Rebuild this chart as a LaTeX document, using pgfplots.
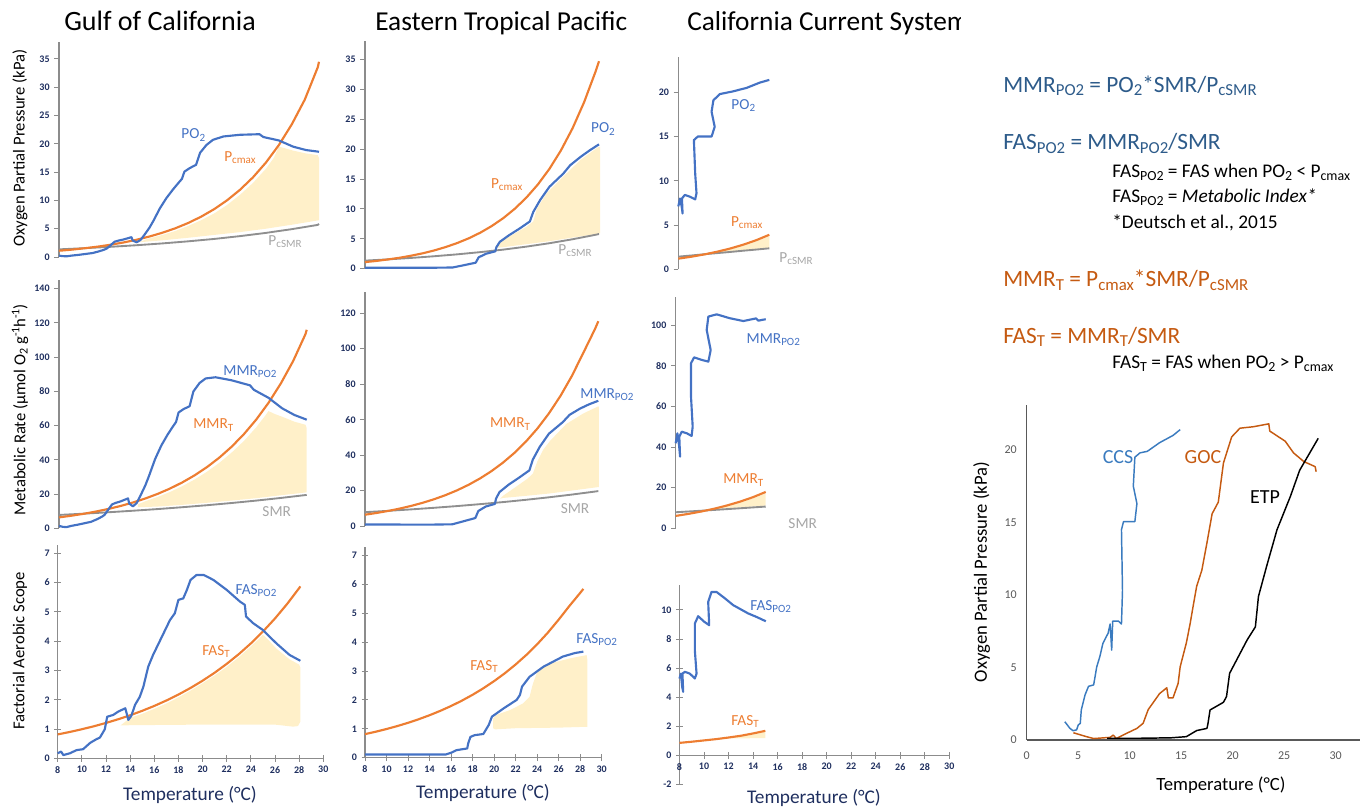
\documentclass[border=0pt]{standalone}
\usepackage{fontspec}
\setmainfont{Carlito}
\usepackage{graphicx}
\usepackage{pgfplots}
\pgfplotsset{compat=1.18}
\definecolor{cblue}{HTML}{4472C4}
\definecolor{corange}{HTML}{ED7D31}
\definecolor{cgray}{HTML}{8F8F8F}
\definecolor{cgraylbl}{HTML}{A6A6A6}
\definecolor{cfill}{HTML}{FFF0C9}
\definecolor{navy}{HTML}{1F2F5F}
\definecolor{axgray}{HTML}{8C8C8C}
\definecolor{eqblue}{HTML}{2D5B8A}
\definecolor{eqorange}{HTML}{C55A11}
\definecolor{rblue}{HTML}{3A7BBF}
\definecolor{rorange}{HTML}{C55A11}
\definecolor{tickgray}{HTML}{595959}
\newcommand\sub[1]{\raisebox{-0.3ex}{\scalebox{0.72}{#1}}}
\newcommand\sups[1]{\raisebox{0.75ex}{\scalebox{0.7}{#1}}}
\newcommand\cl{\fontsize{11.5}{13}\selectfont}
\tikzset{cl/.style={font=\cl}, lw/.style={anchor=base west, inner xsep=0pt}}
\pgfplotsset{
 noarrows/.style={axis line style={-}, x axis line style={-}, y axis line style={-},
   every outer x axis line/.append style={-}, every outer y axis line/.append style={-},
   every inner x axis line/.append style={-}, every inner y axis line/.append style={-}},
 base/.style={scale only axis, anchor=south west, clip=false,
   /pgf/number format/assume math mode=true,
   tick label style={font=\fontsize{7.5}{8}\selectfont\bfseries, text=navy},
   tick style={draw=axgray, line width=0.7pt},
   axis line style={draw=axgray, line width=0.8pt},
   major tick length=3.5pt, line join=round},
 toppanel/.style={base, axis y line=left, axis x line=none, xtick=\empty, tick align=outside, ymin=0, xmin=8, noarrows},
 botpanel/.style={base, axis lines=left, tick align=center, major tick length=5pt, xtick={8,10,...,30}, xmin=8, xmax=30, ymin=0, noarrows},
 bl/.style={cblue, line width=1.6pt},
 or/.style={corange, line width=1.6pt},
 gr/.style={cgray, line width=1.4pt},
 fl/.style={draw=none, fill=cfill},
}
\begin{document}
\begin{tikzpicture}
\path[use as bounding box] (0pt,0pt) rectangle (1026pt,606.75pt);
% ---------- GoC top
\begin{axis}[toppanel, at={(44.25pt,414pt)}, width=195pt, height=161.25pt, xmax=28.1, ymax=38, ytick={0,5,...,35}]
\addplot[fl] coordinates {(14.2,2.6)(14.6,3.0)(15,3.3)(16,3.9)(17,4.6)(18,5.5)(19,6.5)(20,7.7)(21,9.2)(22,11.0)(23,13.1)(24,15.6)(24.6,17.5)(25.0,19.5)(25.5,19.2)(26.1,18.8)(27.1,18.3)(28.0,18.0)(28.1,17.5)(28.1,6.5)(26,5.7)(24,5.0)(22,4.4)(20,3.9)(18,3.4)(16,2.95)};
\addplot[gr] coordinates {(8,1.35)(10,1.56)(12,1.80)(14,2.08)(16,2.40)(18,2.77)(20,3.19)(22,3.69)(24,4.26)(26,4.92)(28,5.67)(28.1,5.85)};
\addplot[or] coordinates {(8,1.10)(9,1.30)(10,1.55)(11,1.83)(12,2.17)(13,2.57)(14,3.05)(15,3.62)(16,4.29)(17,5.08)(18,6.02)(19,7.14)(20,8.46)(21,10.03)(22,11.89)(23,14.09)(24,16.70)(25,19.79)(26,23.46)(27,27.81)(28,33.5)(28.1,34.5)};
\addplot[bl] coordinates {(8.0,0.24)(8.3,0.15)(8.6,0.12)(9.0,0.25)(9.6,0.4)(10.1,0.55)(10.6,0.7)(11.1,1.0)(11.5,1.3)(11.7,1.5)(12.0,2.1)(12.3,2.7)(12.6,2.9)(13.0,3.1)(13.3,3.3)(13.6,3.5)(13.7,2.9)(14.0,2.6)(14.3,3.0)(14.6,3.9)(15.0,5.2)(15.3,6.4)(15.8,8.6)(16.3,10.4)(16.8,11.9)(17.2,13.0)(17.5,13.8)(17.7,15.1)(18.1,15.7)(18.6,16.3)(18.9,18.4)(19.4,19.8)(19.9,20.7)(20.7,21.3)(22.0,21.6)(23.5,21.7)(23.8,21.2)(25.0,20.6)(26.1,19.5)(27.1,18.9)(28.1,18.6)};
\end{axis}
% ---------- ETP top
\begin{axis}[toppanel, at={(273.75pt,405.225pt)}, width=175.5pt, height=170.4pt, xmax=28.3, ymax=38, ytick={0,5,...,35}]
\addplot[fl] coordinates {(19.5,3.5)(19.6,4.2)(20.0,4.8)(21.0,5.9)(22.0,7.0)(22.6,7.9)(22.9,10.0)(23.75,12.6)(25.2,15.4)(26.7,18.2)(28.2,20.3)(28.4,20.4)(28.4,5.9)(26,5.2)(24,4.6)(22,4.1)(20,3.6)};
\addplot[gr] coordinates {(8,1.35)(10,1.56)(12,1.80)(14,2.08)(16,2.40)(18,2.77)(20,3.19)(22,3.69)(24,4.26)(26,4.92)(28,5.67)(28.3,5.80)};
\addplot[or] coordinates {(8,1.10)(9,1.30)(10,1.55)(11,1.83)(12,2.17)(13,2.57)(14,3.05)(15,3.62)(16,4.29)(17,5.08)(18,6.02)(19,7.14)(20,8.46)(21,10.03)(22,11.89)(23,14.09)(24,16.70)(25,19.79)(26,23.46)(27,27.81)(28,32.96)(28.3,34.7)};
\addplot[bl] coordinates {(8.0,0.15)(13.5,0.15)(15.6,0.2)(16.5,0.55)(17.6,1.0)(17.86,1.9)(18.5,2.5)(19.3,2.9)(19.4,3.6)(19.7,4.5)(20.5,5.6)(21.4,6.7)(22.3,7.9)(22.6,9.5)(23.2,11.5)(24.0,13.7)(25.2,15.9)(25.8,17.3)(26.7,18.7)(27.5,19.8)(28.3,20.8)};
\end{axis}
% ---------- CCS top
\begin{axis}[toppanel, at={(508.725pt,404.775pt)}, width=68.25pt, height=159.3pt, xmax=15, ymax=24, ytick={0,5,...,20}]
\addplot[fl] coordinates {(10.3,1.78)(11,1.92)(12,2.25)(13,2.66)(14,3.17)(15,3.75)(15,2.42)(14,2.28)(13,2.14)(12,2.0)(11,1.87)};
\addplot[gr] coordinates {(8,1.43)(9,1.56)(10,1.70)(11,1.83)(12,1.96)(13,2.10)(14,2.23)(15,2.37)};
\addplot[or] coordinates {(8,1.2)(9,1.42)(10,1.68)(11,1.99)(12,2.35)(13,2.78)(14,3.29)(15,3.9)};
\addplot[bl] coordinates {(8.0,7.1)(8.13,8.0)(8.26,7.1)(8.33,6.3)(8.28,8.0)(8.5,8.4)(8.9,8.2)(9.3,7.9)(9.4,8.6)(9.3,10.8)(9.2,14.6)(9.5,15.0)(10.56,15.0)(10.8,16.1)(10.56,17.8)(10.7,19.1)(11.2,19.8)(12.2,20.1)(13.26,20.5)(14.28,21.1)(15.0,21.4)};
\end{axis}
% ---------- GoC mid
\begin{axis}[toppanel, at={(44.25pt,210.525pt)}, width=185.8pt, height=186.1pt, xmax=28.1, ymax=145, ytick={0,20,...,140}]
\addplot[fl] coordinates {(14.4,14.0)(15,15.8)(16,18.3)(17,21.2)(18,24.6)(19,28.5)(20,33.0)(21,38.2)(22,44.2)(23,51.0)(24,59.0)(24.7,65.5)(25.0,68.5)(25.5,66.8)(26.1,65.2)(27.1,62.3)(28.0,60.5)(28.1,58.5)(28.1,21.0)(26,19.3)(24,17.6)(22,16.2)(20,14.9)(18,13.7)(16,12.7)(14.4,12.3)};
\addplot[gr] coordinates {(8,7.80)(10,8.54)(12,9.36)(14,10.26)(16,11.23)(18,12.31)(20,13.48)(22,14.77)(24,16.18)(26,17.73)(28,19.42)(28.1,19.5)};
\addplot[or] coordinates {(8,6.36)(9,7.34)(10,8.47)(11,9.79)(12,11.30)(13,13.05)(14,15.07)(15,17.40)(16,20.09)(17,23.20)(18,26.79)(19,30.93)(20,35.72)(21,41.24)(22,47.62)(23,54.99)(24,63.50)(25,73.32)(26,84.66)(27,97.76)(28,113.5)(28.1,116)};
\addplot[bl] coordinates {(8.0,1.39)(8.3,0.86)(8.6,0.68)(9.0,1.41)(9.6,2.22)(10.1,3.01)(10.6,3.78)(11.1,5.33)(11.5,6.85)(11.7,7.87)(12.0,10.93)(12.3,13.94)(12.6,14.85)(13.0,15.71)(13.3,16.60)(13.6,17.46)(13.7,14.43)(14.0,12.84)(14.3,14.70)(14.6,18.95)(15.0,25.01)(15.3,30.54)(15.8,40.51)(16.3,48.35)(16.8,54.60)(17.2,59.02)(17.5,62.17)(17.7,67.66)(18.1,69.63)(18.6,71.35)(18.9,79.91)(19.4,84.86)(19.9,87.56)(20.7,88.25)(22.0,86.49)(23.5,83.52)(23.8,80.96)(25.0,76.24)(26.1,70.12)(27.1,66.21)(28.1,63.46)};
\end{axis}
% ---------- ETP mid
\begin{axis}[toppanel, at={(273.75pt,212.25pt)}, width=175pt, height=175.5pt, xmax=28.3, ymax=132, ytick={0,20,...,120}]
\addplot[fl] coordinates {(19.75,15.4)(20.0,17.0)(21.0,21.5)(22.1,26.5)(22.6,29.5)(23.0,36.5)(23.5,43.0)(24.1,48.0)(25.5,57.5)(27.0,63.5)(28.3,67.5)(28.35,67)(28.35,22.0)(26,20.0)(24,18.3)(22,17.0)(20,15.8)};
\addplot[gr] coordinates {(8,7.80)(10,8.54)(12,9.36)(14,10.26)(16,11.23)(18,12.31)(20,13.48)(22,14.77)(24,16.18)(26,17.73)(28,19.42)(28.3,19.69)};
\addplot[or] coordinates {(8,6.36)(9,7.34)(10,8.47)(11,9.79)(12,11.30)(13,13.05)(14,15.07)(15,17.40)(16,20.09)(17,23.20)(18,26.79)(19,30.93)(20,35.72)(21,41.24)(22,47.62)(23,54.99)(24,63.50)(25,73.32)(26,84.66)(27,97.76)(28,111.0)(28.3,115.5)};
\addplot[bl] coordinates {(8.0,0.87)(13.5,0.75)(15.6,0.95)(16.5,2.54)(17.6,4.49)(17.86,8.48)(18.5,10.97)(19.3,12.46)(19.4,15.43)(19.7,19.14)(20.5,23.32)(21.4,27.25)(22.3,31.38)(22.6,37.44)(23.2,44.62)(24.0,52.06)(25.2,58.54)(25.8,62.71)(26.7,66.20)(27.5,68.65)(28.3,70.64)};
\end{axis}
% ---------- CCS mid
\begin{axis}[toppanel, at={(506.775pt,210.525pt)}, width=67.5pt, height=173.25pt, xmax=15, ymax=113.8, ytick={0,20,...,100}]
\addplot[fl] coordinates {(10.4,9.0)(11,9.5)(12,10.9)(13,12.6)(14,14.7)(15,17.2)(15,11.2)(14,10.7)(13,10.25)(12,9.8)(11,9.35)};
\addplot[gr] coordinates {(8,7.9)(9,8.28)(10,8.66)(11,9.05)(12,9.45)(13,9.86)(14,10.28)(15,10.7)};
\addplot[or] coordinates {(8,6.1)(9,7.11)(10,8.28)(11,9.66)(12,11.26)(13,13.12)(14,15.3)(15,17.9)};
\addplot[bl] coordinates {(8.0,41.9)(8.13,46.8)(8.26,41)(8.34,35.3)(8.28,45.2)(8.47,47.6)(8.86,46.8)(9.24,45.5)(9.32,50.1)(9.19,64.9)(9.19,81.3)(9.43,84.2)(10.0,83.0)(10.54,82.1)(10.72,87.8)(10.41,97.7)(10.54,104.3)(11.19,105.4)(12.2,103.5)(13.26,102.1)(14.25,103.4)(14.43,102.3)(15.0,103.0)};
\end{axis}
% ---------- GoC bottom
\begin{axis}[botpanel, at={(43.275pt,38.025pt)}, width=199.2pt, height=159.9pt, ymax=7.28, ytick={0,1,...,7}]
\addplot[fl] coordinates {(13.2,1.12)(14,1.38)(15,1.52)(16,1.69)(17,1.87)(18,2.08)(19,2.31)(20,2.56)(21,2.83)(22,3.12)(23,3.45)(24,3.82)(24.6,4.05)(25.0,4.22)(25.5,4.02)(26.1,3.75)(27.2,3.38)(28.0,3.2)(28.1,3.1)(28.1,1.25)(27.9,1.1)(27.5,1.08)(26,1.15)(20,1.15)(14,1.13)};
\addplot[or] coordinates {(8,0.815)(9,0.899)(10,0.992)(11,1.094)(12,1.207)(13,1.332)(14,1.469)(15,1.621)(16,1.788)(17,1.973)(18,2.176)(19,2.401)(20,2.649)(21,2.922)(22,3.224)(23,3.556)(24,3.923)(25,4.328)(26,4.775)(27,5.268)(28,5.811)(28.1,5.87)};
\addplot[bl] coordinates {(8.0,0.17)(8.28,0.23)(8.47,0.11)(9.0,0.17)(9.57,0.28)(10.1,0.31)(10.7,0.53)(11.2,0.65)(11.5,0.71)(11.9,0.99)(12.1,1.42)(12.6,1.48)(13.0,1.59)(13.6,1.71)(13.85,1.31)(14.1,1.45)(14.4,1.82)(14.8,2.1)(15.1,2.45)(15.5,3.13)(15.9,3.53)(16.5,4.04)(16.9,4.38)(17.3,4.72)(17.7,4.95)(18.0,5.41)(18.4,5.46)(18.7,5.75)(19.0,6.09)(19.5,6.26)(20.1,6.26)(20.9,6.09)(22.0,5.75)(23.1,5.35)(23.5,5.24)(23.6,4.84)(24.2,4.61)(25.0,4.38)(26.1,3.93)(27.2,3.53)(28.1,3.33)};
\end{axis}
% ---------- ETP bottom
\begin{axis}[botpanel, at={(273.75pt,38.475pt)}, width=177.5pt, height=158.25pt, ymax=7.3, ytick={0,1,...,7}]
\addplot[fl] coordinates {(19.9,1.02)(19.9,1.35)(20.2,1.48)(21.5,1.65)(22.7,1.88)(23.3,2.11)(23.6,2.55)(23.96,2.92)(24.5,3.12)(25.2,3.26)(27.1,3.44)(28.6,3.55)(28.67,3.4)(28.67,1.07)(26,1.04)(22,1.02)(20.1,0.98)};
\addplot[or] coordinates {(8,0.815)(9,0.899)(10,0.992)(11,1.094)(12,1.207)(13,1.332)(14,1.469)(15,1.621)(16,1.788)(17,1.973)(18,2.176)(19,2.401)(20,2.649)(21,2.922)(22,3.224)(23,3.556)(24,3.923)(25,4.328)(26,4.775)(27,5.25)(28,5.70)(28.3,5.84)};
\addplot[bl] coordinates {(8.0,0.11)(15.5,0.11)(16.0,0.17)(16.5,0.26)(17.5,0.32)(17.6,0.5)(17.8,0.72)(18.2,0.78)(19.0,0.82)(19.5,1.13)(19.8,1.42)(20.9,1.71)(22.1,2.0)(22.4,2.17)(22.6,2.46)(23.3,2.8)(24.6,3.15)(26.4,3.5)(27.5,3.62)(28.3,3.67)};
\end{axis}
% ---------- CCS bottom
\begin{axis}[base, at={(509.625pt,18.525pt)}, width=202.35pt, height=149.5pt, axis x line=middle, axis y line=left, noarrows,
  tick align=center, major tick length=5pt, hide obscured x ticks=false, hide obscured y ticks=false,
  xmin=8, xmax=30, ymin=-2, ymax=11.72, xtick={8,10,...,30}, ytick={-2,0,...,10}]
\addplot[fl] coordinates {(11.5,1.15)(12,1.19)(13,1.3)(14,1.45)(15,1.62)(15,1.18)};
\addplot[or] coordinates {(8,0.85)(9,0.93)(10,1.02)(11,1.11)(12,1.22)(13,1.34)(14,1.5)(15,1.68)};
\addplot[bl] coordinates {(8.0,5.28)(8.11,5.62)(8.22,4.7)(8.3,4.36)(8.24,5.62)(8.44,5.74)(8.84,5.62)(9.25,5.28)(9.39,5.62)(9.25,7.23)(9.25,9.06)(9.52,9.57)(10.0,9.2)(10.42,8.95)(10.34,10.55)(10.61,11.24)(11.02,11.24)(11.7,10.8)(12.38,10.33)(13.6,9.76)(14.28,9.52)(15.04,9.22)};
\end{axis}
% ---------- Right summary panel
\begin{axis}[base, at={(770.025pt,51.75pt)}, width=250.3pt, height=251.25pt, axis lines=left, noarrows,
  axis line style={draw=tickgray, line width=0.8pt}, major tick length=0pt,
  tick label style={font=\fontsize{9}{10}\selectfont, text=tickgray},
  xticklabel style={yshift=-5pt}, yticklabel style={xshift=-4pt},
  xmin=0, xmax=32.4, ymin=0, ymax=23.1, xtick={0,5,...,30}, ytick={0,5,...,20}]
\addplot[rblue, line width=1.1pt] coordinates {(3.7,1.26)(4.2,0.8)(4.5,0.64)(4.85,0.7)(5.0,1.03)(5.2,1.15)(5.3,2.07)(5.66,3.1)(6.0,3.7)(6.5,3.8)(6.8,5.05)(7.1,5.75)(7.4,6.67)(7.9,7.36)(8.1,8.0)(8.25,6.2)(8.35,8.2)(8.9,8.2)(9.2,8.0)(9.3,10.3)(9.2,14.5)(9.4,15.06)(10.5,15.06)(10.7,16.3)(10.35,17.5)(10.5,19.5)(11.0,19.8)(11.7,19.9)(12.9,20.5)(14.2,21.0)(14.9,21.4)};
\addplot[rorange, line width=1.1pt] coordinates {(4.53,0.5)(5.8,0.23)(6.5,0.1)(8.1,0.18)(8.4,0.34)(8.7,0.1)(9.7,0.46)(10.7,0.8)(11.3,1.15)(11.8,2.1)(12.3,2.6)(12.9,3.2)(13.6,3.6)(13.75,2.9)(14.2,2.9)(14.7,3.9)(14.9,5.05)(15.5,6.7)(15.86,8.0)(16.2,9.4)(16.5,10.6)(17.0,11.7)(17.5,13.6)(18.0,15.6)(18.6,16.4)(19.1,19.1)(19.9,20.9)(20.7,21.5)(22.0,21.6)(23.5,21.8)(23.6,21.3)(25.1,20.6)(25.9,19.8)(26.9,19.2)(28.0,18.85)(28.1,18.5)};
\addplot[black, line width=1.1pt] coordinates {(7.8,0.12)(11,0.12)(14,0.15)(15.5,0.23)(16.5,0.65)(17.5,0.8)(17.6,1.15)(17.8,2.07)(19.1,2.6)(19.4,3.0)(19.7,4.6)(20.55,5.75)(21.4,6.9)(22.2,7.8)(22.5,9.9)(23.3,12.0)(24.3,14.5)(25.6,16.8)(26.5,18.6)(28.3,20.8)};
\end{axis}
\begin{scope}[x=0.75pt,y=0.75pt]
% ---------- titles
\node[lw, font=\fontsize{21}{22}\selectfont] at (64,778) {Gulf of California};
\node[lw, font=\fontsize{20.5}{22}\selectfont] at (375,778) {Eastern Tropical Pacific};
\begin{scope}
\clip (600,740) rectangle (960,809);
\node[lw, font=\fontsize{20.5}{22}\selectfont] at (687,778) {California Current System};
\end{scope}
% ---------- y labels
\node[rotate=90, font=\fontsize{12.5}{14}\selectfont] at (20,661) {Oxygen Partial Pressure (kPa)};
\node[rotate=90, font=\fontsize{12.5}{14}\selectfont] at (20,399) {Metabolic Rate (µmol O\sub{2} g\sups{-1}h\sups{-1})};
\node[rotate=90, font=\fontsize{12.5}{14}\selectfont] at (20,158) {Factorial Aerobic Scope};
% ---------- x labels
\node[font=\fontsize{14.5}{16}\selectfont, text=navy] at (190,14) {Temperature (°C)};
\node[font=\fontsize{14.5}{16}\selectfont, text=navy] at (483,16) {Temperature (°C)};
\node[font=\fontsize{14.5}{16}\selectfont, text=navy] at (814,11) {Temperature (°C)};
% ---------- curve labels
\node[cl, text=cblue] at (193.3,674) {PO\sub{2}};
\node[cl, text=corange] at (240,651) {P\sub{cmax}};
\node[cl, text=cgraylbl] at (285,567) {P\sub{cSMR}};
\node[cl, text=cblue] at (603,680) {PO\sub{2}};
\node[cl, text=corange] at (506.7,624) {P\sub{cmax}};
\node[cl, text=cgraylbl] at (575,558.3) {P\sub{cSMR}};
\node[cl, text=cblue] at (743.3,703.3) {PO\sub{2}};
\node[cl, text=corange] at (746.7,586.3) {P\sub{cmax}};
\node[cl, text=cgraylbl] at (796,550) {P\sub{cSMR}};
\node[cl, text=cblue] at (250,437.3) {MMR\sub{PO2}};
\node[cl, text=corange] at (213.3,384) {MMR\sub{T}};
\node[cl, text=cgraylbl] at (276.7,297.3) {SMR};
\node[cl, text=cblue] at (607,414) {MMR\sub{PO2}};
\node[cl, text=corange] at (510,385) {MMR\sub{T}};
\node[cl, text=cgraylbl] at (575,300) {SMR};
\node[cl, text=cblue] at (773.3,469.7) {MMR\sub{PO2}};
\node[cl, text=corange] at (743.3,329) {MMR\sub{T}};
\node[cl, text=cgraylbl] at (802.7,285.7) {SMR};
\node[cl, text=cblue] at (256,218.3) {FAS\sub{PO2}};
\node[cl, text=corange] at (216,157.3) {FAS\sub{T}};
\node[cl, text=cblue] at (596.7,169.7) {FAS\sub{PO2}};
\node[cl, text=corange] at (484,142.3) {FAS\sub{T}};
\node[cl, text=cblue] at (770.7,202.3) {FAS\sub{PO2}};
\node[cl, text=corange] at (745,87.3) {FAS\sub{T}};
% ---------- right panel labels
\node[rotate=90, font=\fontsize{14}{16}\selectfont] at (981.7,237) {Oxygen Partial Pressure (kPa)};
\node[font=\fontsize{14}{16}\selectfont] at (1221,24) {Temperature (°C)};
\node[font=\fontsize{15}{16}\selectfont, text=rblue] at (1118,352) {CCS};
\node[font=\fontsize{15}{16}\selectfont, text=rorange] at (1203,352) {GOC};
\node[font=\fontsize{15}{16}\selectfont] at (1265,312) {ETP};
% ---------- equations
\node[lw, font=\fontsize{17.5}{19}\selectfont, text=eqblue] at (1003,716.7) {MMR\sub{PO2} = PO\sub{2}*SMR/P\sub{cSMR}};
\node[lw, font=\fontsize{17.5}{19}\selectfont, text=eqblue] at (1003,659) {FAS\sub{PO2} = MMR\sub{PO2}/SMR};
\node[lw, font=\fontsize{14.5}{16}\selectfont] at (1112,631.7) {FAS\sub{PO2} = FAS when PO\sub{2} {<} P\sub{cmax}};
\node[lw, font=\fontsize{14.5}{16}\selectfont] at (1112,606.3) {FAS\sub{PO2} = \textit{Metabolic Index*}};
\node[lw, font=\fontsize{14.5}{16}\selectfont] at (1112,580.7) {*Deutsch et al., 2015};
\node[lw, font=\fontsize{17.5}{19}\selectfont, text=eqorange] at (1003,522.3) {MMR\sub{T} = P\sub{cmax}*SMR/P\sub{cSMR}};
\node[lw, font=\fontsize{17.5}{19}\selectfont, text=eqorange] at (1003,465.7) {FAS\sub{T} = MMR\sub{T}/SMR};
\node[lw, font=\fontsize{14.5}{16}\selectfont] at (1112,440.7) {FAS\sub{T} = FAS when PO\sub{2} {>} P\sub{cmax}};
\end{scope}
\end{tikzpicture}
\end{document}
